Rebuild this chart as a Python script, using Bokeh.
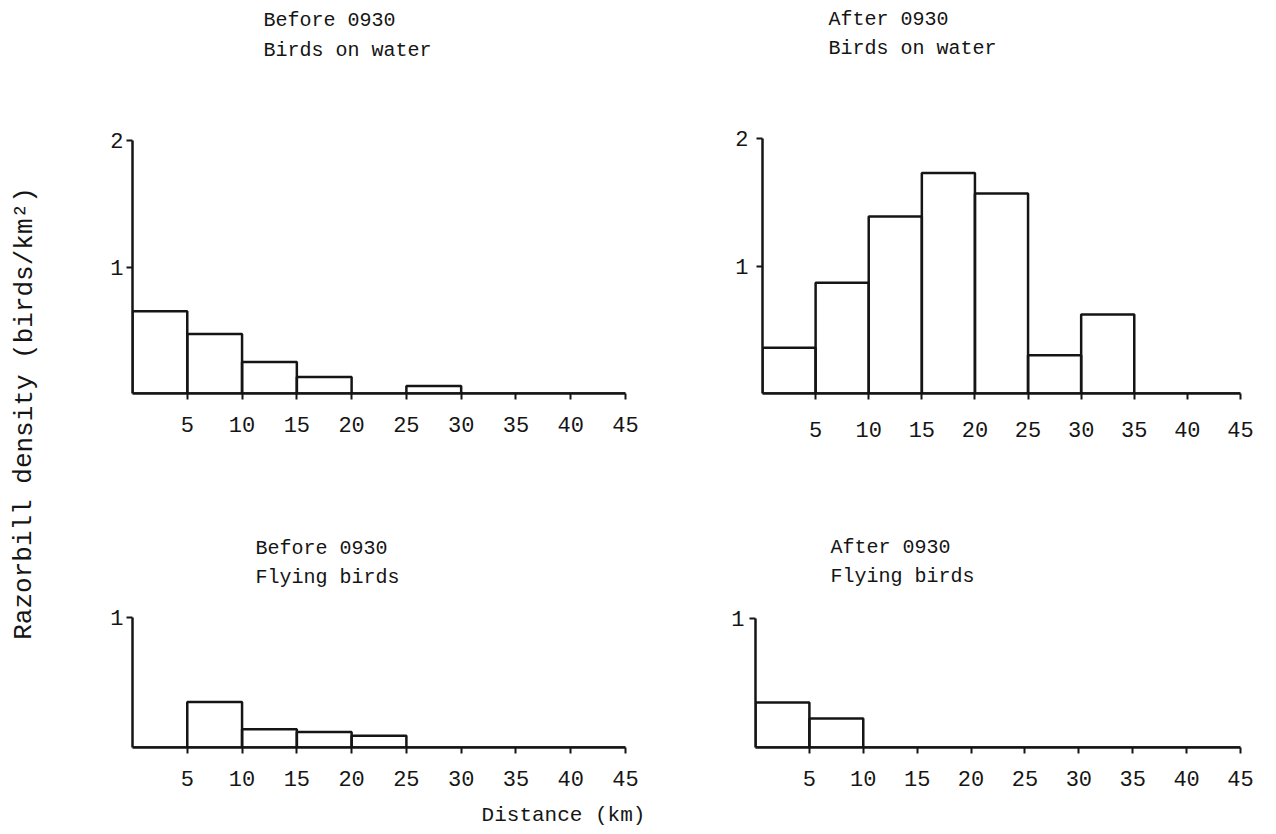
from bokeh.plotting import figure
from bokeh.layouts import row, column
from bokeh.models import FixedTicker, Label, Range1d
from bokeh.embed import file_html
from bokeh.resources import INLINE

# ---------------- data ----------------
bin_left = [0, 5, 10, 15, 20, 25, 30, 35, 40]
bin_right = [5, 10, 15, 20, 25, 30, 35, 40, 45]
x_ticks = [5, 10, 15, 20, 25, 30, 35, 40, 45]

before_water = [0.65, 0.47, 0.25, 0.13, 0.0, 0.06, 0.0, 0.0, 0.0]
after_water = [0.36, 0.87, 1.39, 1.73, 1.57, 0.30, 0.62, 0.0, 0.0]
before_flying = [0.0, 0.35, 0.14, 0.12, 0.09, 0.0, 0.0, 0.0, 0.0]
after_flying = [0.35, 0.225, 0.0, 0.0, 0.0, 0.0, 0.0, 0.0, 0.0]

titles = {
    "bw": ["Before 0930", "Birds on water"],
    "aw": ["After 0930", "Birds on water"],
    "bf": ["Before 0930", "Flying birds"],
    "af": ["After 0930", "Flying birds"],
}
y_label = "Razorbill density (birds/km\u00b2)"
x_label = "Distance (km)"

FONT = "Liberation Mono"
INK = "#151515"


def panel(values, lines, y_ticks, fig_x, fig_y, fig_w, fig_h,
          f_left, f_right, f_top, f_bottom, ppu, title_x, title_ys,
          x_standoff, y_standoff):
    """f_* are absolute page pixel positions of the frame; ppu = pixels per unit."""
    frame_h = f_bottom - f_top
    frame_w = f_right - f_left
    y_end = frame_h / ppu
    p = figure(width=fig_w, height=fig_h, output_backend="svg",
               toolbar_location=None,
               x_range=Range1d(0, 45), y_range=Range1d(0, y_end),
               min_border_left=f_left - fig_x, min_border_right=fig_x + fig_w - f_right,
               min_border_top=f_top - fig_y, min_border_bottom=fig_y + fig_h - f_bottom)
    p.outline_line_color = None
    p.xgrid.visible = False
    p.ygrid.visible = False
    p.background_fill_color = "white"
    p.border_fill_color = "white"

    p.quad(left=bin_left, right=bin_right, bottom=0, top=values,
           fill_color=None, line_color=INK, line_width=2.5)

    for ax, ticks, bounds in ((p.xaxis[0], x_ticks, (0, 45)),
                              (p.yaxis[0], y_ticks, (0, max(y_ticks)))):
        ax.ticker = FixedTicker(ticks=ticks)
        ax.bounds = bounds
        ax.minor_tick_line_color = None
        ax.axis_line_color = INK
        ax.axis_line_width = 2.5
        ax.major_tick_line_color = INK
        ax.major_tick_line_width = 2
        ax.major_tick_in = 0
        ax.major_tick_out = 6
        ax.major_label_text_font = FONT
        ax.major_label_text_font_size = "22px"
        ax.major_label_text_color = INK
    p.xaxis.major_label_standoff = x_standoff
    p.yaxis.major_label_standoff = y_standoff

    tx = (title_x - f_left) / frame_w * 45
    for txt, ty in zip(lines, title_ys):
        p.add_layout(Label(x=tx, y=(f_bottom - ty) / ppu, text=txt,
                           text_font=FONT, text_font_size="20px",
                           text_color=INK, text_baseline="middle",
                           text_align="left"))
    return p


tl = panel(before_water, titles["bw"], [1, 2], 50, 0, 640, 470,
           132, 625, 5, 393, 126.5, 263, (20, 50), 17, 3)
tr = panel(after_water, titles["aw"], [1, 2], 690, 0, 586, 470,
           762, 1240, 5, 407, 132, 828, (20, 50), 22, 8)
bl = panel(before_flying, titles["bf"], [1], 50, 470, 640, 330,
           132, 625, 475, 747, 130, 255, (548, 577), 17, 3)
br = panel(after_flying, titles["af"], [1], 690, 470, 586, 330,
           755, 1240, 475, 750, 130, 830, (548, 577), 17, 5)


def text_fig(w, h, txt, cx, cy, angle, size):
    f = figure(width=w, height=h, output_backend="svg", toolbar_location=None,
               x_range=Range1d(0, w), y_range=Range1d(0, h),
               min_border=0, min_border_left=0, min_border_right=0,
               min_border_top=0, min_border_bottom=0)
    f.axis.visible = False
    f.xgrid.visible = False
    f.ygrid.visible = False
    f.outline_line_color = None
    f.background_fill_color = "white"
    f.border_fill_color = "white"
    f.add_layout(Label(x=cx, y=h - cy, text=txt, text_font=FONT,
                       text_font_size=size, text_color=INK,
                       text_align="center", text_baseline="middle",
                       angle=angle))
    return f


ylab = text_fig(50, 834, y_label, 24, 413, 1.5707963, "26px")
xlab = text_fig(1226, 34, x_label, 563 - 50, 15, 0, "21px")

layout = row(ylab, column(row(tl, tr), row(bl, br), xlab))

open("out.html", "w").write(file_html(layout, INLINE))
